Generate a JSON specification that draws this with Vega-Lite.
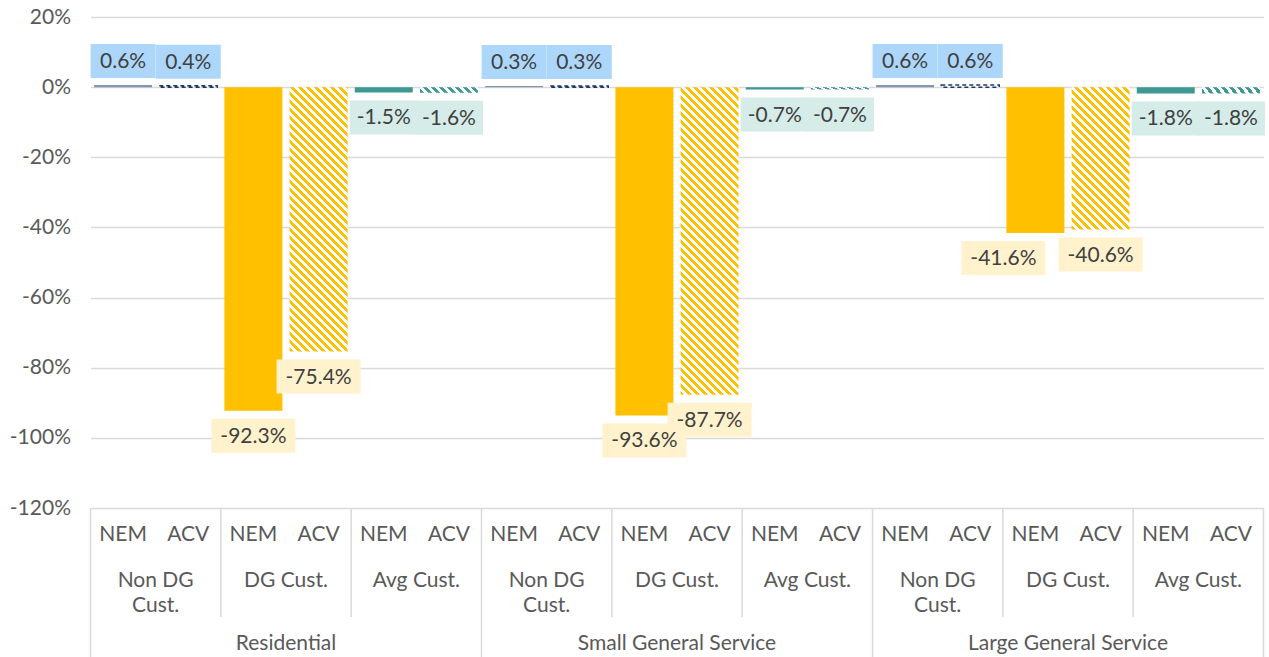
{
"$schema": "https://vega.github.io/schema/vega-lite/v6.json",
"padding": {"left": 8.5, "top": 6, "right": 0, "bottom": 0},
"spacing": 0,
"bounds": "flush",
"config": {"view": {"stroke": null}, "font": "Lato", "text": {"font": "Lato", "fontSize": 21}},
"data": {"values": [
{"g":"Residential","s":"Non DG Cust.","k":"NEM","v":0.6},
{"g":"Residential","s":"Non DG Cust.","k":"ACV","v":0.4},
{"g":"Residential","s":"DG Cust.","k":"NEM","v":-92.3},
{"g":"Residential","s":"DG Cust.","k":"ACV","v":-75.4},
{"g":"Residential","s":"Avg Cust.","k":"NEM","v":-1.5},
{"g":"Residential","s":"Avg Cust.","k":"ACV","v":-1.6},
{"g":"Small General Service","s":"Non DG Cust.","k":"NEM","v":0.3},
{"g":"Small General Service","s":"Non DG Cust.","k":"ACV","v":0.3},
{"g":"Small General Service","s":"DG Cust.","k":"NEM","v":-93.6},
{"g":"Small General Service","s":"DG Cust.","k":"ACV","v":-87.7},
{"g":"Small General Service","s":"Avg Cust.","k":"NEM","v":-0.7},
{"g":"Small General Service","s":"Avg Cust.","k":"ACV","v":-0.7},
{"g":"Large General Service","s":"Non DG Cust.","k":"NEM","v":0.6},
{"g":"Large General Service","s":"Non DG Cust.","k":"ACV","v":0.6},
{"g":"Large General Service","s":"DG Cust.","k":"NEM","v":-41.6},
{"g":"Large General Service","s":"DG Cust.","k":"ACV","v":-40.6},
{"g":"Large General Service","s":"Avg Cust.","k":"NEM","v":-1.8},
{"g":"Large General Service","s":"Avg Cust.","k":"ACV","v":-1.8}
]},
"transform": [
{"calculate": "substring(datum.g,0,1)+substring(datum.s,0,1)+substring(datum.k,0,1)", "as": "key"},
{"calculate": "datum.v + '%'", "as": "lbl"},
{"calculate": "datum.s === 'Non DG Cust.' ? 'Non DG\\nCust.' : datum.s", "as": "slab"}
],
"vconcat": [
{
"width": 1173, "height": 491,
"encoding": {
"x": {"field": "key", "type": "nominal", "scale": {"domain": ["RNN","RNA","RDN","RDA","RAN","RAA","SNN","SNA","SDN","SDA","SAN","SAA","LNN","LNA","LDN","LDA","LAN","LAA"], "paddingInner": 0, "paddingOuter": 0}, "axis": null},
"y": {"field": "v", "type": "quantitative", "scale": {"domain": [-120, 20], "nice": false}, "axis": {"values": [-120,-100,-80,-60,-40,-20,0,20], "labelExpr": "datum.value + '%'", "title": null, "domain": false, "ticks": false, "labelPadding": 20, "labelFontSize": 21, "labelFont": "Lato", "labelColor": "#595959", "gridColor": "#d9d9d9", "gridWidth": 1.5}}
},
"layer": [
{"transform": [{"filter": "datum.k === 'NEM'"}], "mark": {"type": "bar", "width": {"band": 0.89}}, "encoding": {"color": {"field": "s", "type": "nominal", "scale": {"domain": ["Non DG Cust.","DG Cust.","Avg Cust."], "range": ["#8497b0","#ffc000","#3d9991"]}, "legend": null}}},
{"transform": [{"filter": "datum.k === 'ACV' && datum.s === 'Non DG Cust.'"}], "mark": {"type": "bar", "width": {"band": 0.89}, "fill": "#ffffff", "stroke": "#1f3864", "strokeWidth": 1.5, "strokeDash": [4,3]}},
{"transform": [{"filter": "datum.k === 'ACV' && datum.s === 'Avg Cust.'"}], "mark": {"type": "bar", "width": {"band": 0.89}, "fill": {"gradient": "linear", "x1": 0, "y1": 1, "x2": 6.8457, "y2": 0.40985, "stops": [
{"offset":0,"color":"#3d9991"},{"offset":0.01,"color":"#3d9991"},{"offset":0.01,"color":"#fff"},{"offset":0.02,"color":"#fff"},
{"offset":0.02,"color":"#3d9991"},{"offset":0.03,"color":"#3d9991"},{"offset":0.03,"color":"#fff"},{"offset":0.04,"color":"#fff"},
{"offset":0.04,"color":"#3d9991"},{"offset":0.05,"color":"#3d9991"},{"offset":0.05,"color":"#fff"},{"offset":0.06,"color":"#fff"},
{"offset":0.06,"color":"#3d9991"},{"offset":0.07,"color":"#3d9991"},{"offset":0.07,"color":"#fff"},{"offset":0.08,"color":"#fff"},
{"offset":0.08,"color":"#3d9991"},{"offset":0.09,"color":"#3d9991"},{"offset":0.09,"color":"#fff"},{"offset":0.1,"color":"#fff"},
{"offset":0.1,"color":"#3d9991"},{"offset":0.11,"color":"#3d9991"},{"offset":0.11,"color":"#fff"},{"offset":0.12,"color":"#fff"},
{"offset":0.12,"color":"#3d9991"},{"offset":0.13,"color":"#3d9991"},{"offset":0.13,"color":"#fff"},{"offset":0.14,"color":"#fff"},
{"offset":0.14,"color":"#3d9991"},{"offset":0.15,"color":"#3d9991"},{"offset":0.15,"color":"#fff"},{"offset":0.16,"color":"#fff"}
]}}},
{"transform": [{"filter": "datum.key === 'RDA'"}], "mark": {"type": "bar", "width": {"band": 0.89}, "fill": {"gradient": "linear", "x1": 0, "y1": 1, "x2": 0.31663, "y2": -0.44341, "stops": [
{"offset":0,"color":"#ffc000"},{"offset":0.01,"color":"#ffc000"},{"offset":0.01,"color":"#fff"},{"offset":0.02,"color":"#fff"},
{"offset":0.02,"color":"#ffc000"},{"offset":0.03,"color":"#ffc000"},{"offset":0.03,"color":"#fff"},{"offset":0.04,"color":"#fff"},
{"offset":0.04,"color":"#ffc000"},{"offset":0.05,"color":"#ffc000"},{"offset":0.05,"color":"#fff"},{"offset":0.06,"color":"#fff"},
{"offset":0.06,"color":"#ffc000"},{"offset":0.07,"color":"#ffc000"},{"offset":0.07,"color":"#fff"},{"offset":0.08,"color":"#fff"},
{"offset":0.08,"color":"#ffc000"},{"offset":0.09,"color":"#ffc000"},{"offset":0.09,"color":"#fff"},{"offset":0.1,"color":"#fff"},
{"offset":0.1,"color":"#ffc000"},{"offset":0.11,"color":"#ffc000"},{"offset":0.11,"color":"#fff"},{"offset":0.12,"color":"#fff"},
{"offset":0.12,"color":"#ffc000"},{"offset":0.13,"color":"#ffc000"},{"offset":0.13,"color":"#fff"},{"offset":0.14,"color":"#fff"},
{"offset":0.14,"color":"#ffc000"},{"offset":0.15,"color":"#ffc000"},{"offset":0.15,"color":"#fff"},{"offset":0.16,"color":"#fff"},
{"offset":0.16,"color":"#ffc000"},{"offset":0.17,"color":"#ffc000"},{"offset":0.17,"color":"#fff"},{"offset":0.18,"color":"#fff"},
{"offset":0.18,"color":"#ffc000"},{"offset":0.19,"color":"#ffc000"},{"offset":0.19,"color":"#fff"},{"offset":0.2,"color":"#fff"},
{"offset":0.2,"color":"#ffc000"},{"offset":0.21,"color":"#ffc000"},{"offset":0.21,"color":"#fff"},{"offset":0.22,"color":"#fff"},
{"offset":0.22,"color":"#ffc000"},{"offset":0.23,"color":"#ffc000"},{"offset":0.23,"color":"#fff"},{"offset":0.24,"color":"#fff"},
{"offset":0.24,"color":"#ffc000"},{"offset":0.25,"color":"#ffc000"},{"offset":0.25,"color":"#fff"},{"offset":0.26,"color":"#fff"},
{"offset":0.26,"color":"#ffc000"},{"offset":0.27,"color":"#ffc000"},{"offset":0.27,"color":"#fff"},{"offset":0.28,"color":"#fff"},
{"offset":0.28,"color":"#ffc000"},{"offset":0.29,"color":"#ffc000"},{"offset":0.29,"color":"#fff"},{"offset":0.3,"color":"#fff"},
{"offset":0.3,"color":"#ffc000"},{"offset":0.31,"color":"#ffc000"},{"offset":0.31,"color":"#fff"},{"offset":0.32,"color":"#fff"},
{"offset":0.32,"color":"#ffc000"},{"offset":0.33,"color":"#ffc000"},{"offset":0.33,"color":"#fff"},{"offset":0.34,"color":"#fff"},
{"offset":0.34,"color":"#ffc000"},{"offset":0.35,"color":"#ffc000"},{"offset":0.35,"color":"#fff"},{"offset":0.36,"color":"#fff"},
{"offset":0.36,"color":"#ffc000"},{"offset":0.37,"color":"#ffc000"},{"offset":0.37,"color":"#fff"},{"offset":0.38,"color":"#fff"},
{"offset":0.38,"color":"#ffc000"},{"offset":0.39,"color":"#ffc000"},{"offset":0.39,"color":"#fff"},{"offset":0.4,"color":"#fff"},
{"offset":0.4,"color":"#ffc000"},{"offset":0.41,"color":"#ffc000"},{"offset":0.41,"color":"#fff"},{"offset":0.42,"color":"#fff"},
{"offset":0.42,"color":"#ffc000"},{"offset":0.43,"color":"#ffc000"},{"offset":0.43,"color":"#fff"},{"offset":0.44,"color":"#fff"},
{"offset":0.44,"color":"#ffc000"},{"offset":0.45,"color":"#ffc000"},{"offset":0.45,"color":"#fff"},{"offset":0.46,"color":"#fff"},
{"offset":0.46,"color":"#ffc000"},{"offset":0.47,"color":"#ffc000"},{"offset":0.47,"color":"#fff"},{"offset":0.48,"color":"#fff"},
{"offset":0.48,"color":"#ffc000"},{"offset":0.49,"color":"#ffc000"},{"offset":0.49,"color":"#fff"},{"offset":0.5,"color":"#fff"},
{"offset":0.5,"color":"#ffc000"},{"offset":0.51,"color":"#ffc000"},{"offset":0.51,"color":"#fff"},{"offset":0.52,"color":"#fff"},
{"offset":0.52,"color":"#ffc000"},{"offset":0.53,"color":"#ffc000"},{"offset":0.53,"color":"#fff"},{"offset":0.54,"color":"#fff"},
{"offset":0.54,"color":"#ffc000"},{"offset":0.55,"color":"#ffc000"},{"offset":0.55,"color":"#fff"},{"offset":0.56,"color":"#fff"},
{"offset":0.56,"color":"#ffc000"},{"offset":0.57,"color":"#ffc000"},{"offset":0.57,"color":"#fff"},{"offset":0.58,"color":"#fff"},
{"offset":0.58,"color":"#ffc000"},{"offset":0.59,"color":"#ffc000"},{"offset":0.59,"color":"#fff"},{"offset":0.6,"color":"#fff"},
{"offset":0.6,"color":"#ffc000"},{"offset":0.61,"color":"#ffc000"},{"offset":0.61,"color":"#fff"},{"offset":0.62,"color":"#fff"},
{"offset":0.62,"color":"#ffc000"},{"offset":0.63,"color":"#ffc000"},{"offset":0.63,"color":"#fff"},{"offset":0.64,"color":"#fff"},
{"offset":0.64,"color":"#ffc000"},{"offset":0.65,"color":"#ffc000"},{"offset":0.65,"color":"#fff"},{"offset":0.66,"color":"#fff"},
{"offset":0.66,"color":"#ffc000"},{"offset":0.67,"color":"#ffc000"},{"offset":0.67,"color":"#fff"},{"offset":0.68,"color":"#fff"},
{"offset":0.68,"color":"#ffc000"},{"offset":0.69,"color":"#ffc000"},{"offset":0.69,"color":"#fff"},{"offset":0.7,"color":"#fff"},
{"offset":0.7,"color":"#ffc000"},{"offset":0.71,"color":"#ffc000"},{"offset":0.71,"color":"#fff"},{"offset":0.72,"color":"#fff"},
{"offset":0.72,"color":"#ffc000"},{"offset":0.73,"color":"#ffc000"},{"offset":0.73,"color":"#fff"},{"offset":0.74,"color":"#fff"},
{"offset":0.74,"color":"#ffc000"},{"offset":0.75,"color":"#ffc000"},{"offset":0.75,"color":"#fff"},{"offset":0.76,"color":"#fff"},
{"offset":0.76,"color":"#ffc000"},{"offset":0.77,"color":"#ffc000"},{"offset":0.77,"color":"#fff"},{"offset":0.78,"color":"#fff"},
{"offset":0.78,"color":"#ffc000"},{"offset":0.79,"color":"#ffc000"},{"offset":0.79,"color":"#fff"},{"offset":0.8,"color":"#fff"},
{"offset":0.8,"color":"#ffc000"},{"offset":0.81,"color":"#ffc000"}
]}}},
{"transform": [{"filter": "datum.key === 'SDA'"}], "mark": {"type": "bar", "width": {"band": 0.89}, "fill": {"gradient": "linear", "x1": 0, "y1": 1, "x2": 0.23678, "y2": -0.25574, "stops": [
{"offset":0,"color":"#ffc000"},{"offset":0.01,"color":"#ffc000"},{"offset":0.01,"color":"#fff"},{"offset":0.02,"color":"#fff"},
{"offset":0.02,"color":"#ffc000"},{"offset":0.03,"color":"#ffc000"},{"offset":0.03,"color":"#fff"},{"offset":0.04,"color":"#fff"},
{"offset":0.04,"color":"#ffc000"},{"offset":0.05,"color":"#ffc000"},{"offset":0.05,"color":"#fff"},{"offset":0.06,"color":"#fff"},
{"offset":0.06,"color":"#ffc000"},{"offset":0.07,"color":"#ffc000"},{"offset":0.07,"color":"#fff"},{"offset":0.08,"color":"#fff"},
{"offset":0.08,"color":"#ffc000"},{"offset":0.09,"color":"#ffc000"},{"offset":0.09,"color":"#fff"},{"offset":0.1,"color":"#fff"},
{"offset":0.1,"color":"#ffc000"},{"offset":0.11,"color":"#ffc000"},{"offset":0.11,"color":"#fff"},{"offset":0.12,"color":"#fff"},
{"offset":0.12,"color":"#ffc000"},{"offset":0.13,"color":"#ffc000"},{"offset":0.13,"color":"#fff"},{"offset":0.14,"color":"#fff"},
{"offset":0.14,"color":"#ffc000"},{"offset":0.15,"color":"#ffc000"},{"offset":0.15,"color":"#fff"},{"offset":0.16,"color":"#fff"},
{"offset":0.16,"color":"#ffc000"},{"offset":0.17,"color":"#ffc000"},{"offset":0.17,"color":"#fff"},{"offset":0.18,"color":"#fff"},
{"offset":0.18,"color":"#ffc000"},{"offset":0.19,"color":"#ffc000"},{"offset":0.19,"color":"#fff"},{"offset":0.2,"color":"#fff"},
{"offset":0.2,"color":"#ffc000"},{"offset":0.21,"color":"#ffc000"},{"offset":0.21,"color":"#fff"},{"offset":0.22,"color":"#fff"},
{"offset":0.22,"color":"#ffc000"},{"offset":0.23,"color":"#ffc000"},{"offset":0.23,"color":"#fff"},{"offset":0.24,"color":"#fff"},
{"offset":0.24,"color":"#ffc000"},{"offset":0.25,"color":"#ffc000"},{"offset":0.25,"color":"#fff"},{"offset":0.26,"color":"#fff"},
{"offset":0.26,"color":"#ffc000"},{"offset":0.27,"color":"#ffc000"},{"offset":0.27,"color":"#fff"},{"offset":0.28,"color":"#fff"},
{"offset":0.28,"color":"#ffc000"},{"offset":0.29,"color":"#ffc000"},{"offset":0.29,"color":"#fff"},{"offset":0.3,"color":"#fff"},
{"offset":0.3,"color":"#ffc000"},{"offset":0.31,"color":"#ffc000"},{"offset":0.31,"color":"#fff"},{"offset":0.32,"color":"#fff"},
{"offset":0.32,"color":"#ffc000"},{"offset":0.33,"color":"#ffc000"},{"offset":0.33,"color":"#fff"},{"offset":0.34,"color":"#fff"},
{"offset":0.34,"color":"#ffc000"},{"offset":0.35,"color":"#ffc000"},{"offset":0.35,"color":"#fff"},{"offset":0.36,"color":"#fff"},
{"offset":0.36,"color":"#ffc000"},{"offset":0.37,"color":"#ffc000"},{"offset":0.37,"color":"#fff"},{"offset":0.38,"color":"#fff"},
{"offset":0.38,"color":"#ffc000"},{"offset":0.39,"color":"#ffc000"},{"offset":0.39,"color":"#fff"},{"offset":0.4,"color":"#fff"},
{"offset":0.4,"color":"#ffc000"},{"offset":0.41,"color":"#ffc000"},{"offset":0.41,"color":"#fff"},{"offset":0.42,"color":"#fff"},
{"offset":0.42,"color":"#ffc000"},{"offset":0.43,"color":"#ffc000"},{"offset":0.43,"color":"#fff"},{"offset":0.44,"color":"#fff"},
{"offset":0.44,"color":"#ffc000"},{"offset":0.45,"color":"#ffc000"},{"offset":0.45,"color":"#fff"},{"offset":0.46,"color":"#fff"},
{"offset":0.46,"color":"#ffc000"},{"offset":0.47,"color":"#ffc000"},{"offset":0.47,"color":"#fff"},{"offset":0.48,"color":"#fff"},
{"offset":0.48,"color":"#ffc000"},{"offset":0.49,"color":"#ffc000"},{"offset":0.49,"color":"#fff"},{"offset":0.5,"color":"#fff"},
{"offset":0.5,"color":"#ffc000"},{"offset":0.51,"color":"#ffc000"},{"offset":0.51,"color":"#fff"},{"offset":0.52,"color":"#fff"},
{"offset":0.52,"color":"#ffc000"},{"offset":0.53,"color":"#ffc000"},{"offset":0.53,"color":"#fff"},{"offset":0.54,"color":"#fff"},
{"offset":0.54,"color":"#ffc000"},{"offset":0.55,"color":"#ffc000"},{"offset":0.55,"color":"#fff"},{"offset":0.56,"color":"#fff"},
{"offset":0.56,"color":"#ffc000"},{"offset":0.57,"color":"#ffc000"},{"offset":0.57,"color":"#fff"},{"offset":0.58,"color":"#fff"},
{"offset":0.58,"color":"#ffc000"},{"offset":0.59,"color":"#ffc000"},{"offset":0.59,"color":"#fff"},{"offset":0.6,"color":"#fff"},
{"offset":0.6,"color":"#ffc000"},{"offset":0.61,"color":"#ffc000"},{"offset":0.61,"color":"#fff"},{"offset":0.62,"color":"#fff"},
{"offset":0.62,"color":"#ffc000"},{"offset":0.63,"color":"#ffc000"},{"offset":0.63,"color":"#fff"},{"offset":0.64,"color":"#fff"},
{"offset":0.64,"color":"#ffc000"},{"offset":0.65,"color":"#ffc000"},{"offset":0.65,"color":"#fff"},{"offset":0.66,"color":"#fff"},
{"offset":0.66,"color":"#ffc000"},{"offset":0.67,"color":"#ffc000"},{"offset":0.67,"color":"#fff"},{"offset":0.68,"color":"#fff"},
{"offset":0.68,"color":"#ffc000"},{"offset":0.69,"color":"#ffc000"},{"offset":0.69,"color":"#fff"},{"offset":0.7,"color":"#fff"},
{"offset":0.7,"color":"#ffc000"},{"offset":0.71,"color":"#ffc000"},{"offset":0.71,"color":"#fff"},{"offset":0.72,"color":"#fff"},
{"offset":0.72,"color":"#ffc000"},{"offset":0.73,"color":"#ffc000"},{"offset":0.73,"color":"#fff"},{"offset":0.74,"color":"#fff"},
{"offset":0.74,"color":"#ffc000"},{"offset":0.75,"color":"#ffc000"},{"offset":0.75,"color":"#fff"},{"offset":0.76,"color":"#fff"},
{"offset":0.76,"color":"#ffc000"},{"offset":0.77,"color":"#ffc000"},{"offset":0.77,"color":"#fff"},{"offset":0.78,"color":"#fff"},
{"offset":0.78,"color":"#ffc000"},{"offset":0.79,"color":"#ffc000"},{"offset":0.79,"color":"#fff"},{"offset":0.8,"color":"#fff"},
{"offset":0.8,"color":"#ffc000"},{"offset":0.81,"color":"#ffc000"},{"offset":0.81,"color":"#fff"},{"offset":0.82,"color":"#fff"},
{"offset":0.82,"color":"#ffc000"},{"offset":0.83,"color":"#ffc000"},{"offset":0.83,"color":"#fff"},{"offset":0.84,"color":"#fff"},
{"offset":0.84,"color":"#ffc000"},{"offset":0.85,"color":"#ffc000"},{"offset":0.85,"color":"#fff"},{"offset":0.86,"color":"#fff"},
{"offset":0.86,"color":"#ffc000"},{"offset":0.87,"color":"#ffc000"},{"offset":0.87,"color":"#fff"},{"offset":0.88,"color":"#fff"},
{"offset":0.88,"color":"#ffc000"},{"offset":0.89,"color":"#ffc000"},{"offset":0.89,"color":"#fff"},{"offset":0.9,"color":"#fff"},
{"offset":0.9,"color":"#ffc000"},{"offset":0.91,"color":"#ffc000"},{"offset":0.91,"color":"#fff"},{"offset":0.92,"color":"#fff"}
]}}},
{"transform": [{"filter": "datum.key === 'LDA'"}], "mark": {"type": "bar", "width": {"band": 0.89}, "fill": {"gradient": "linear", "x1": 0, "y1": 1, "x2": 0.98131, "y2": -1.40928, "stops": [
{"offset":0,"color":"#ffc000"},{"offset":0.01,"color":"#ffc000"},{"offset":0.01,"color":"#fff"},{"offset":0.02,"color":"#fff"},
{"offset":0.02,"color":"#ffc000"},{"offset":0.03,"color":"#ffc000"},{"offset":0.03,"color":"#fff"},{"offset":0.04,"color":"#fff"},
{"offset":0.04,"color":"#ffc000"},{"offset":0.05,"color":"#ffc000"},{"offset":0.05,"color":"#fff"},{"offset":0.06,"color":"#fff"},
{"offset":0.06,"color":"#ffc000"},{"offset":0.07,"color":"#ffc000"},{"offset":0.07,"color":"#fff"},{"offset":0.08,"color":"#fff"},
{"offset":0.08,"color":"#ffc000"},{"offset":0.09,"color":"#ffc000"},{"offset":0.09,"color":"#fff"},{"offset":0.1,"color":"#fff"},
{"offset":0.1,"color":"#ffc000"},{"offset":0.11,"color":"#ffc000"},{"offset":0.11,"color":"#fff"},{"offset":0.12,"color":"#fff"},
{"offset":0.12,"color":"#ffc000"},{"offset":0.13,"color":"#ffc000"},{"offset":0.13,"color":"#fff"},{"offset":0.14,"color":"#fff"},
{"offset":0.14,"color":"#ffc000"},{"offset":0.15,"color":"#ffc000"},{"offset":0.15,"color":"#fff"},{"offset":0.16,"color":"#fff"},
{"offset":0.16,"color":"#ffc000"},{"offset":0.17,"color":"#ffc000"},{"offset":0.17,"color":"#fff"},{"offset":0.18,"color":"#fff"},
{"offset":0.18,"color":"#ffc000"},{"offset":0.19,"color":"#ffc000"},{"offset":0.19,"color":"#fff"},{"offset":0.2,"color":"#fff"},
{"offset":0.2,"color":"#ffc000"},{"offset":0.21,"color":"#ffc000"},{"offset":0.21,"color":"#fff"},{"offset":0.22,"color":"#fff"},
{"offset":0.22,"color":"#ffc000"},{"offset":0.23,"color":"#ffc000"},{"offset":0.23,"color":"#fff"},{"offset":0.24,"color":"#fff"},
{"offset":0.24,"color":"#ffc000"},{"offset":0.25,"color":"#ffc000"},{"offset":0.25,"color":"#fff"},{"offset":0.26,"color":"#fff"},
{"offset":0.26,"color":"#ffc000"},{"offset":0.27,"color":"#ffc000"},{"offset":0.27,"color":"#fff"},{"offset":0.28,"color":"#fff"},
{"offset":0.28,"color":"#ffc000"},{"offset":0.29,"color":"#ffc000"},{"offset":0.29,"color":"#fff"},{"offset":0.3,"color":"#fff"},
{"offset":0.3,"color":"#ffc000"},{"offset":0.31,"color":"#ffc000"},{"offset":0.31,"color":"#fff"},{"offset":0.32,"color":"#fff"},
{"offset":0.32,"color":"#ffc000"},{"offset":0.33,"color":"#ffc000"},{"offset":0.33,"color":"#fff"},{"offset":0.34,"color":"#fff"},
{"offset":0.34,"color":"#ffc000"},{"offset":0.35,"color":"#ffc000"},{"offset":0.35,"color":"#fff"},{"offset":0.36,"color":"#fff"},
{"offset":0.36,"color":"#ffc000"},{"offset":0.37,"color":"#ffc000"},{"offset":0.37,"color":"#fff"},{"offset":0.38,"color":"#fff"},
{"offset":0.38,"color":"#ffc000"},{"offset":0.39,"color":"#ffc000"},{"offset":0.39,"color":"#fff"},{"offset":0.4,"color":"#fff"},
{"offset":0.4,"color":"#ffc000"},{"offset":0.41,"color":"#ffc000"},{"offset":0.41,"color":"#fff"},{"offset":0.42,"color":"#fff"},
{"offset":0.42,"color":"#ffc000"},{"offset":0.43,"color":"#ffc000"},{"offset":0.43,"color":"#fff"},{"offset":0.44,"color":"#fff"},
{"offset":0.44,"color":"#ffc000"},{"offset":0.45,"color":"#ffc000"},{"offset":0.45,"color":"#fff"},{"offset":0.46,"color":"#fff"},
{"offset":0.46,"color":"#ffc000"},{"offset":0.47,"color":"#ffc000"},{"offset":0.47,"color":"#fff"},{"offset":0.48,"color":"#fff"},
{"offset":0.48,"color":"#ffc000"},{"offset":0.49,"color":"#ffc000"},{"offset":0.49,"color":"#fff"},{"offset":0.5,"color":"#fff"},
{"offset":0.5,"color":"#ffc000"},{"offset":0.51,"color":"#ffc000"}
]}}},
{"transform": [{"filter": "datum.s === 'Non DG Cust.'"}], "mark": {"type": "bar", "width": 65, "yOffset": -41, "y2Offset": -7, "fill": "#add6fb"}, "encoding": {"y2": {"field": "v"}}},
{"transform": [{"filter": "datum.s === 'DG Cust.' && datum.key !== 'LDN'"}], "mark": {"type": "bar", "width": 84, "yOffset": 8, "y2Offset": 42, "fill": "#fff2cc"}, "encoding": {"y2": {"field": "v"}}},
{"transform": [{"filter": "datum.key === 'LDN'"}], "mark": {"type": "bar", "width": 84, "xOffset": -32, "yOffset": 8, "y2Offset": 42, "fill": "#fff2cc"}, "encoding": {"y2": {"field": "v"}}},
{"transform": [{"filter": "datum.s === 'Avg Cust.'"}], "mark": {"type": "bar", "width": 68, "yOffset": 8, "y2Offset": 42, "fill": "#d5ece8"}, "encoding": {"y2": {"field": "v"}}},
{"transform": [{"filter": "datum.s === 'Non DG Cust.'"}], "mark": {"type": "text", "dy": -23, "baseline": "middle", "fontSize": 21, "color": "#404040"}, "encoding": {"text": {"field": "lbl"}}},
{"transform": [{"filter": "datum.s !== 'Non DG Cust.' && datum.key !== 'LDN'"}], "mark": {"type": "text", "dy": 26, "baseline": "middle", "fontSize": 21, "color": "#404040"}, "encoding": {"text": {"field": "lbl"}}},
{"transform": [{"filter": "datum.key === 'LDN'"}], "mark": {"type": "text", "dy": 26, "dx": -32, "baseline": "middle", "fontSize": 21, "color": "#404040"}, "encoding": {"text": {"field": "lbl"}}}
]
},
{
"width": 1173, "height": 54,
"layer": [
{"transform": [{"filter": "datum.k === 'NEM'"}], "mark": {"type": "rule", "color": "#d9d9d9", "strokeWidth": 1.5}, "encoding": {"x": {"field": "key", "type": "nominal", "bandPosition": 0, "scale": {"domain": ["RNN","RNA","RDN","RDA","RAN","RAA","SNN","SNA","SDN","SDA","SAN","SAA","LNN","LNA","LDN","LDA","LAN","LAA"], "paddingInner": 0, "paddingOuter": 0}, "axis": null}}},
{"transform": [{"filter": "datum.key === 'LAA'"}], "mark": {"type": "rule", "color": "#d9d9d9", "strokeWidth": 1.5}, "encoding": {"x": {"field": "key", "type": "nominal", "bandPosition": 1, "scale": {"domain": ["RNN","RNA","RDN","RDA","RAN","RAA","SNN","SNA","SDN","SDA","SAN","SAA","LNN","LNA","LDN","LDA","LAN","LAA"], "paddingInner": 0, "paddingOuter": 0}, "axis": null}}},
{"mark": {"type": "text", "fontSize": 21, "color": "#595959", "baseline": "middle"}, "encoding": {"x": {"field": "key", "type": "nominal", "scale": {"domain": ["RNN","RNA","RDN","RDA","RAN","RAA","SNN","SNA","SDN","SDA","SAN","SAA","LNN","LNA","LDN","LDA","LAN","LAA"], "paddingInner": 0, "paddingOuter": 0}, "axis": null}, "text": {"field": "k"}}}
]
},
{
"width": 1173, "height": 55,
"layer": [
{"transform": [{"filter": "datum.k === 'NEM'"}], "mark": {"type": "rule", "color": "#d9d9d9", "strokeWidth": 1.5}, "encoding": {"x": {"field": "key", "type": "nominal", "bandPosition": 0, "scale": {"domain": ["RNN","RNA","RDN","RDA","RAN","RAA","SNN","SNA","SDN","SDA","SAN","SAA","LNN","LNA","LDN","LDA","LAN","LAA"], "paddingInner": 0, "paddingOuter": 0}, "axis": null}}},
{"transform": [{"filter": "datum.key === 'LAA'"}], "mark": {"type": "rule", "color": "#d9d9d9", "strokeWidth": 1.5}, "encoding": {"x": {"field": "key", "type": "nominal", "bandPosition": 1, "scale": {"domain": ["RNN","RNA","RDN","RDA","RAN","RAA","SNN","SNA","SDN","SDA","SAN","SAA","LNN","LNA","LDN","LDA","LAN","LAA"], "paddingInner": 0, "paddingOuter": 0}, "axis": null}}},
{"transform": [{"filter": "datum.k === 'ACV'"}], "mark": {"type": "text", "fontSize": 21, "color": "#595959", "baseline": "top", "dy": -20, "lineBreak": "\n", "lineHeight": 25}, "encoding": {"x": {"field": "key", "type": "nominal", "bandPosition": 0, "scale": {"domain": ["RNN","RNA","RDN","RDA","RAN","RAA","SNN","SNA","SDN","SDA","SAN","SAA","LNN","LNA","LDN","LDA","LAN","LAA"], "paddingInner": 0, "paddingOuter": 0}, "axis": null}, "text": {"field": "slab"}}}
]
},
{
"width": 1173, "height": 40,
"layer": [
{"transform": [{"filter": "datum.k === 'NEM' && datum.s === 'Non DG Cust.'"}], "mark": {"type": "rule", "color": "#d9d9d9", "strokeWidth": 1.5}, "encoding": {"x": {"field": "key", "type": "nominal", "bandPosition": 0, "scale": {"domain": ["RNN","RNA","RDN","RDA","RAN","RAA","SNN","SNA","SDN","SDA","SAN","SAA","LNN","LNA","LDN","LDA","LAN","LAA"], "paddingInner": 0, "paddingOuter": 0}, "axis": null}}},
{"transform": [{"filter": "datum.key === 'LAA'"}], "mark": {"type": "rule", "color": "#d9d9d9", "strokeWidth": 1.5}, "encoding": {"x": {"field": "key", "type": "nominal", "bandPosition": 1, "scale": {"domain": ["RNN","RNA","RDN","RDA","RAN","RAA","SNN","SNA","SDN","SDA","SAN","SAA","LNN","LNA","LDN","LDA","LAN","LAA"], "paddingInner": 0, "paddingOuter": 0}, "axis": null}}},
{"transform": [{"filter": "datum.k === 'ACV' && datum.s === 'DG Cust.'"}], "mark": {"type": "text", "fontSize": 21, "color": "#595959", "baseline": "middle", "dy": 7}, "encoding": {"x": {"field": "key", "type": "nominal", "bandPosition": 0, "scale": {"domain": ["RNN","RNA","RDN","RDA","RAN","RAA","SNN","SNA","SDN","SDA","SAN","SAA","LNN","LNA","LDN","LDA","LAN","LAA"], "paddingInner": 0, "paddingOuter": 0}, "axis": null}, "text": {"field": "g"}}}
]
}
]
}
